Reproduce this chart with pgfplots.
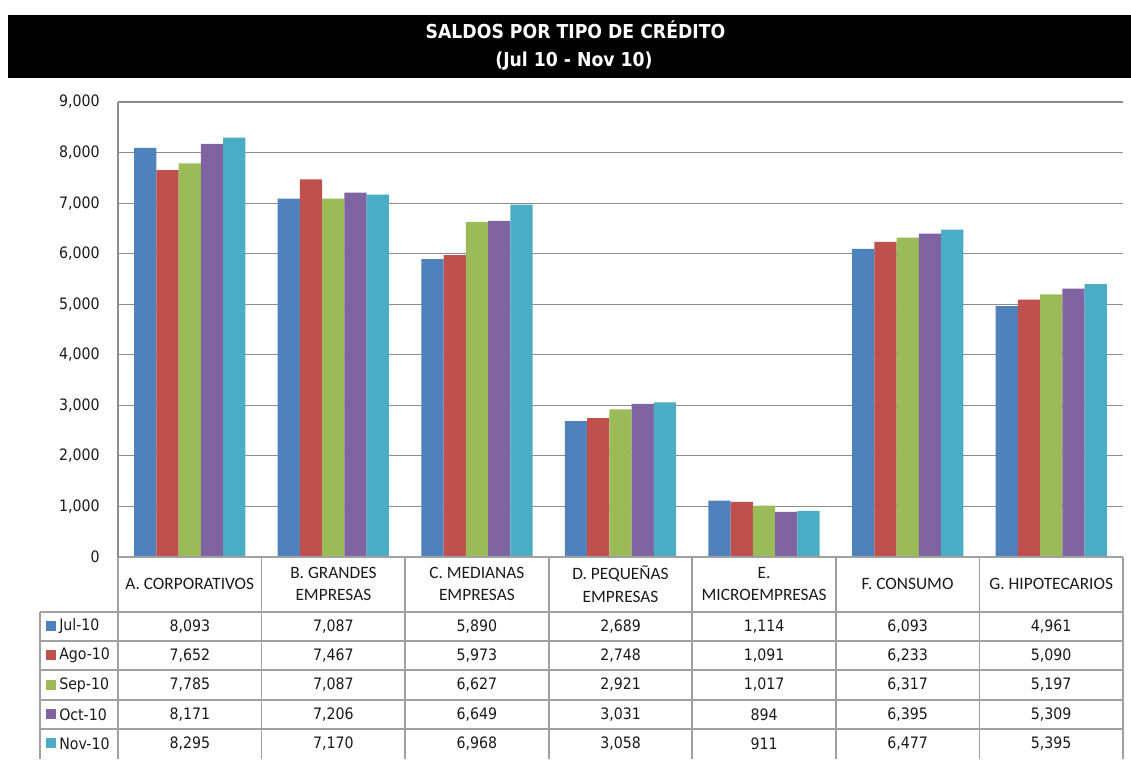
\documentclass[border=0pt]{standalone}
\usepackage{fontspec}
\setmainfont{DejaVu Sans Condensed}
\newfontfamily\calfont{Carlito}
\usepackage{pgfplots}
\pgfplotsset{compat=1.18}
\definecolor{c1}{HTML}{4F81BD}
\definecolor{c2}{HTML}{C0504D}
\definecolor{c3}{HTML}{9BBB59}
\definecolor{c4}{HTML}{8064A2}
\definecolor{c5}{HTML}{4BACC6}
\definecolor{gridc}{HTML}{8C8C8C}
\definecolor{tabc}{HTML}{A0A0A0}
\definecolor{txt}{HTML}{1A1A1A}
\newcommand{\valrow}[8]{%
  \node at (189.8,#1) {#2};
  \node at (333.4,#1) {#3};
  \node at (476.9,#1) {#4};
  \node at (620.5,#1) {#5};
  \node at (764.1,#1) {#6};
  \node at (907.6,#1) {#7};
  \node at (1051.2,#1) {#8};}
\begin{document}
\begin{tikzpicture}
\begin{scope}[x=0.75pt,y=0.75pt]
\useasboundingbox (0,0) rectangle (1131,753);
\fill[black] (8,675) rectangle (1131,738);
\node[text=white,font=\fontsize{14.4pt}{17pt}\selectfont\bfseries] at (575.5,723) {SALDOS POR TIPO DE CRÉDITO};
\node[text=white,font=\fontsize{14.4pt}{17pt}\selectfont\bfseries] at (574,692) {(Jul 10 - Nov 10)};
\end{scope}
\begin{axis}[
  at={(88.5pt,147pt)}, anchor=south west,
  scale only axis, width=753.75pt, height=341.25pt,
  xmin=-0.5, xmax=6.5, ymin=0, ymax=9000,
  ybar=0pt, bar width=0.155,
  ytick={0,1000,...,9000}, xtick=\empty,
  ymajorgrids, grid style={color=gridc, line width=0.9pt},
  axis line style={draw=none},
  major tick length=0pt,
  yticklabel style={font=\fontsize{11.8pt}{14pt}\selectfont, text=txt, anchor=east, inner sep=0pt, xshift=-13.5pt},
  /pgf/number format/.cd, 1000 sep={,}, assume math mode=true,
]
\addplot[fill=c1, draw=none] coordinates {(0,8093) (1,7087) (2,5890) (3,2689) (4,1114) (5,6093) (6,4961)};
\addplot[fill=c2, draw=none] coordinates {(0,7652) (1,7467) (2,5973) (3,2748) (4,1091) (5,6233) (6,5090)};
\addplot[fill=c3, draw=none] coordinates {(0,7785) (1,7087) (2,6627) (3,2921) (4,1017) (5,6317) (6,5197)};
\addplot[fill=c4, draw=none] coordinates {(0,8171) (1,7206) (2,6649) (3,3031) (4,894) (5,6395) (6,5309)};
\addplot[fill=c5, draw=none] coordinates {(0,8295) (1,7170) (2,6968) (3,3058) (4,911) (5,6477) (6,5395)};
\end{axis}
\begin{scope}[x=0.75pt,y=0.75pt]
% left axis line
\draw[gridc, line width=0.9pt] (118,651) -- (118,196);
% table lines
\begin{scope}[tabc, line width=1.2pt]
\draw (118,196) -- (1123,196);
\foreach \yy in {141,112,83,53,24} \draw (40,\yy) -- (1123,\yy);
\foreach \k in {0,...,7} \draw ({118+\k*143.571},196) -- ({118+\k*143.571},-6);
\draw (40,141) -- (40,-6);
\end{scope}
% header labels
\begin{scope}[font=\calfont\fontsize{13pt}{16.8pt}\selectfont, text=txt]
\node at (189.8,169) {A. CORPORATIVOS};
\node[align=center] at (333.4,169) {B. GRANDES\\EMPRESAS};
\node[align=center] at (476.9,169) {C. MEDIANAS\\EMPRESAS};
\node[align=center] at (620.5,169) {D. PEQUEÑAS\\EMPRESAS};
\node[align=center] at (764.1,169) {E.\\MICROEMPRESAS};
\node at (907.6,169) {F. CONSUMO};
\node at (1051.2,169) {G. HIPOTECARIOS};
\end{scope}
% legend column
\begin{scope}[font=\fontsize{11.8pt}{14pt}\selectfont, text=txt]
\foreach \yy/\cc/\lab in {126.5/c1/Jul-10, 97.5/c2/Ago-10, 68/c3/Sep-10, 38.5/c4/Oct-10, 9.5/c5/Nov-10}{
  \fill[\cc] (46,\yy-5) rectangle (56,\yy+5);
  \node[anchor=west, inner sep=0pt] at (59,\yy) {\lab};
}
% values
\valrow{126.5}{8,093}{7,087}{5,890}{2,689}{1,114}{6,093}{4,961}
\valrow{97.5}{7,652}{7,467}{5,973}{2,748}{1,091}{6,233}{5,090}
\valrow{68}{7,785}{7,087}{6,627}{2,921}{1,017}{6,317}{5,197}
\valrow{38.5}{8,171}{7,206}{6,649}{3,031}{894}{6,395}{5,309}
\valrow{9.5}{8,295}{7,170}{6,968}{3,058}{911}{6,477}{5,395}
\end{scope}
\end{scope}
\end{tikzpicture}
\end{document}
